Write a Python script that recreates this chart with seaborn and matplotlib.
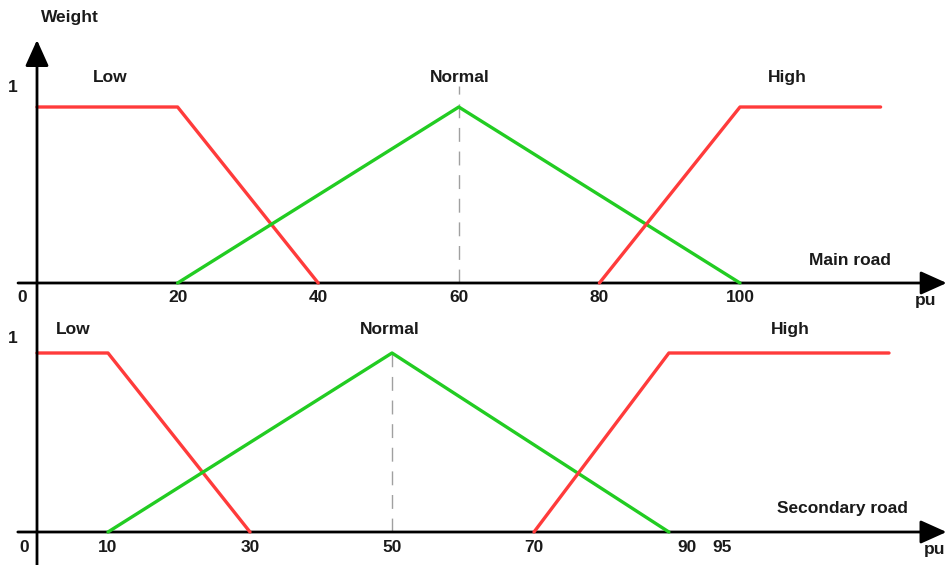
import matplotlib
matplotlib.use("Agg")
import matplotlib.pyplot as plt
import seaborn as sns
import pandas as pd
from matplotlib.patches import FancyArrowPatch

# top panel: main road membership functions
main_low_x = [0, 20, 40]
main_low_y = [1, 1, 0]
main_normal_x = [20, 60, 100]
main_normal_y = [0, 1, 0]
main_high_x = [80, 100, 120]
main_high_y = [0, 1, 1]
main_ticks = [20, 40, 60, 80, 100]
main_tick_labels = ["20", "40", "60", "80", "100"]

# bottom panel: secondary road membership functions
sec_low_x = [0, 10, 30]
sec_low_y = [1, 1, 0]
sec_normal_x = [10, 50, 89]
sec_normal_y = [0, 1, 0]
sec_high_x = [70, 89, 120]
sec_high_y = [0, 1, 1]
sec_ticks = [10, 30, 50, 70, 91.5, 96.5]
sec_tick_labels = ["10", "30", "50", "70", "90", "95"]

RED = "#ff3b3b"
GREEN = "#22cc22"

sns.set_style("white")
plt.rcParams["font.family"] = ["Liberation Sans", "DejaVu Sans"]

fig = plt.figure(figsize=(9.51, 5.65), dpi=100)
ax_top = fig.add_axes([0, 265 / 565, 1, 300 / 565])
ax_bot = fig.add_axes([0, 0, 1, 265 / 565])

txt = dict(fontsize=12.5, fontweight="bold", color="#1a1a1a", ha="center", va="center")


def draw_panel(ax, series, peak, dash_top, ticks, labels, set_lab_pos, lab_y, one_y,
               name, name_pos, zero_x):
    for (xs, ys), col in series:
        df = pd.DataFrame({"x": xs, "y": ys})
        sns.lineplot(data=df, x="x", y="y", ax=ax, color=col, lw=2.4,
                     sort=False, estimator=None, clip_on=False)
    # dashed guide at the peak of "Normal"
    ax.plot([peak, peak], [0, dash_top], color="#a0a0a0", lw=1,
            dashes=(10, 7), zorder=0)
    ax.set_axis_off()
    for v, l in zip(ticks, labels):
        ax.text(v, -0.085, l, **txt)
    ax.text(zero_x, -0.085, "0", **txt)
    ax.text(-3.4, one_y, "1", **txt)
    for lab, xp in zip(["Low", "Normal", "High"], set_lab_pos):
        ax.text(xp, lab_y, lab, **txt)
    ax.text(name_pos[0], name_pos[1], name, **txt)
    ax.text(126.4, -0.1, "pu", **txt)


series_top = [((main_low_x, main_low_y), RED),
              ((main_normal_x, main_normal_y), GREEN),
              ((main_high_x, main_high_y), RED)]
series_bot = [((sec_low_x, sec_low_y), RED),
              ((sec_normal_x, sec_normal_y), GREEN),
              ((sec_high_x, sec_high_y), RED)]

draw_panel(ax_top, series_top, 60, 1.12, main_ticks, main_tick_labels,
           [10.4, 60.2, 106.8], 1.165, 1.11, "Main road", (115.6, 0.13), -2.1)
draw_panel(ax_bot, series_bot, 50, 1.045, sec_ticks, sec_tick_labels,
           [5.1, 49.7, 106.1], 1.13, 1.08, "Secondary road", (113.5, 0.134), -1.8)

ax_top.set_xlim(-37 / 7.03, 914 / 7.03)
ax_top.set_ylim(-17 / 176, 283 / 176)
ax_bot.set_xlim(-37 / 7.1, 914 / 7.1)
ax_bot.set_ylim(-33 / 179, 232 / 179)

# weight label
ax_top.text(4.7, 1.51, "Weight", **txt)

# x axes with arrows
arrow_kw = dict(arrowstyle="-|>,head_length=1.0,head_width=0.45", mutation_scale=16,
                color="black", lw=2, shrinkA=0, shrinkB=0, clip_on=False)
ax_top.add_patch(FancyArrowPatch((-2.7, 0), (129.4, 0), **arrow_kw))
ax_bot.add_patch(FancyArrowPatch((-2.7, 0), (128.1, 0), **arrow_kw))

# shared vertical weight axis
fig.add_artist(FancyArrowPatch((37 / 951, 0), (37 / 951, 1 - 40 / 565),
                               transform=fig.transFigure, **arrow_kw))

fig.savefig("out.png", dpi=100, facecolor="white")
